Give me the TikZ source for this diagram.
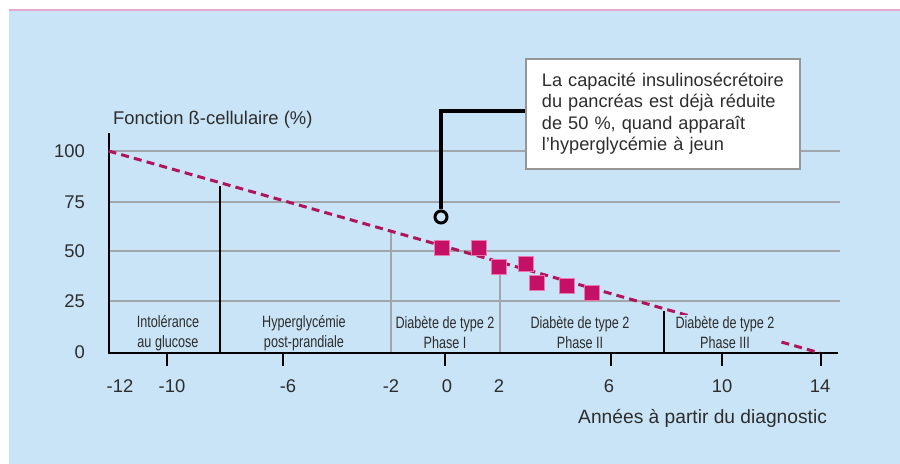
\documentclass[tikz,border=0pt]{standalone}
\usepackage{fontspec}
\setmainfont{Liberation Sans}
\newfontfamily\narrowsans[FakeStretch=0.77]{Liberation Sans}
\usepackage{tikz}
\definecolor{skyblue}{RGB}{201, 228, 247}
\definecolor{pinkline}{RGB}{232, 168, 212}
\definecolor{gridgray}{RGB}{160, 166, 172}
\definecolor{raspberry}{RGB}{196, 16, 102}
\definecolor{mulberry}{RGB}{176, 20, 92}
\definecolor{blush}{RGB}{236, 120, 176}
\definecolor{inkgray}{RGB}{45, 45, 45}
\definecolor{boxgray}{RGB}{150, 150, 150}

\tikzset{
    ticklabel/.style  = {font=\fontsize{9.2}{11}\selectfont, text=inkgray},
    phaselabel/.style = {font=\narrowsans\fontsize{8.2}{10}\selectfont, text=inkgray, align=center, inner sep=1pt},
    datapoint/.style  = {rectangle, fill=raspberry, draw=blush, line width=0.5pt, minimum size=7.5pt, inner sep=0pt},
    notebox/.style    = {draw=boxgray, fill=white, line width=0.9pt, anchor=north west, minimum width=137pt,
                         minimum height=55pt, text width=121pt, inner xsep=8pt, align=left,
                         font=\fontsize{9.1}{10.75}\selectfont, text=inkgray},
    pinhead/.style    = {circle, draw=black, fill=skyblue, line width=1.5pt, minimum size=6pt, inner sep=0pt}
}

\begin{document}
\begin{tikzpicture}[x=0.5pt, y=-0.5pt]
            \useasboundingbox                                         (0, 0) rectangle (900, 464);
            \fill[skyblue]                                            (9, 10) rectangle (900, 464);
            \draw[pinkline, line width=0.6pt]                         (9, 10) -- (900, 10);
            % grid and y labels
            \foreach \gy/\gv in {151/100, 202/75, 251/50, 301/25}{
                \draw[gridgray, line width=0.75pt]                    (108, \gy) -- (840, \gy);
                \node[ticklabel, anchor=east] (y\gv)                  at (92, \gy) {\gv};
            }
            \node[ticklabel, anchor=east] (y0)                        at (92, 352) {0};
            % phase limits
            \draw[gridgray, line width=0.9pt]                         (391, 353) -- (391, 233);
            \draw[gridgray, line width=0.9pt]                         (500, 353) -- (500, 267);
            \draw[black,    line width=0.9pt]                         (220, 353) -- (220, 186);
            \draw[black,    line width=0.9pt]                         (664, 353) -- (664, 311);
            % axes
            \draw[black, line width=1pt]                              (108.5, 133) -- (108.5, 353) -- (838, 353);
            \foreach \tx in {167, 283, 445, 611, 722, 821}
                \draw[black, line width=1.4pt]                        (\tx, 353) -- (\tx, 366);
            \foreach \tx/\tv [count=\i] in {120/-12, 172/-10, 288/-6, 391/-2, 447/0, 499/2, 609/6, 722/10, 820/14}
                \node[ticklabel] (xt\i)                               at (\tx, 386) {\tv};
            \node[ticklabel, anchor=west] (ytitle)                    at (106, 120) {Fonction ß-cellulaire (\%)};
            \node[ticklabel, font=\fontsize{9.6}{11}\selectfont, anchor=east] (xtitle) at (834, 418) {Années à partir du diagnostic};
            % decline
            \draw[mulberry, line width=1.5pt, dash pattern=on 4pt off 2.6pt] (108.5, 151) -- (820, 353);
            \foreach \sx/\sy [count=\i] in {442/248, 479/248, 499/267, 526/264, 537/283, 567/286, 592/293}
                \node[datapoint] (sq\i)                               at (\sx, \sy) {};
            % phases
            \node[phaselabel] (intol)                                 at (168, 333) {Intolérance\\au glucose};
            \node[phaselabel] (hyper)                                 at (304, 333) {Hyperglycémie\\post-prandiale};
            \node[phaselabel] (phaseI)                                at (445, 333) {Diabète de type 2\\Phase I};
            \node[phaselabel] (phaseII)                               at (580, 333) {Diabète de type 2\\Phase II};
            \node[phaselabel, fill=skyblue] (phaseIII)                at (725, 333) {Diabète de type 2\\Phase III};
            % callout
            \node[notebox] (note)                                     at (525, 58)
                 {La capacité insulinosécrétoire\\du pancréas est déjà réduite\\de 50 \%, quand apparaît\\l'hyperglycémie à jeun};
            \node[pinhead] (pin)                                      at (441, 217) {};
            \draw[black, line width=2pt] ([yshift=1.5pt]note.west) -| (pin.north);
        \end{tikzpicture}
\end{document}
